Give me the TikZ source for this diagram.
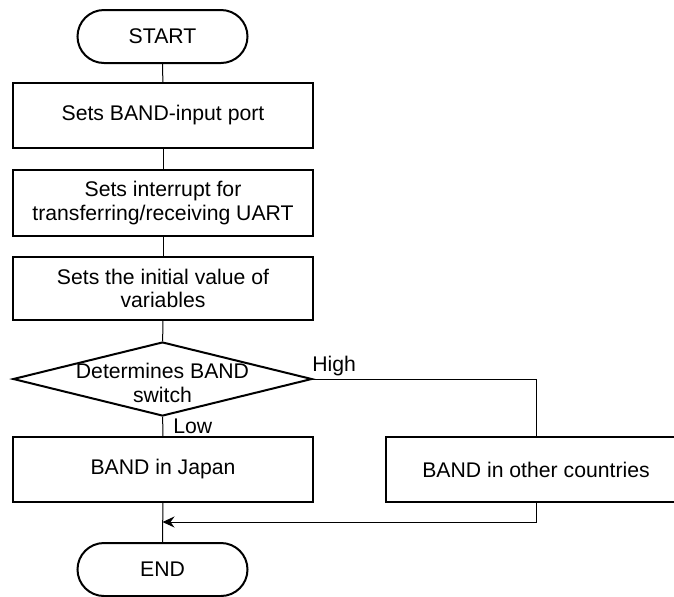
\documentclass[tikz,border=0pt]{standalone}
\usepackage{fontspec}
\setmainfont{Liberation Sans}
\usepackage{tikz}
\usetikzlibrary{shapes.geometric,arrows,arrows.meta,positioning,calc}

\begin{document}
\begin{tikzpicture}[x=0.5pt,y=-0.5pt,
		font=\fontsize{10.6}{11.8}\selectfont,
		procbox/.style={draw,line width=1pt,minimum width=150pt,minimum height=32.5pt,align=center,inner sep=0pt},
		terminal/.style={draw,line width=1pt,rounded corners=13.25pt,minimum width=85pt,minimum height=26.5pt,inner sep=0pt},
		decision/.style={draw,line width=1pt,diamond,minimum width=149.5pt,minimum height=37pt,inner sep=0pt},
		flow/.style={line width=0.5pt}]
	\useasboundingbox (0,0) rectangle (674,596);
	%\draw[style=help lines] (0,0) grid (674,596);
	\node[terminal] (start) at (162.5,36.5) {START};
	\node[procbox] (port) at (163,115.5) {Sets BAND-input port};
	\node[procbox,minimum height=33pt] (uart) at (163,203) {Sets interrupt for\\transferring/receiving UART};
	\node[procbox,minimum height=31.5pt] (init) at (163,288.5) {Sets the initial value of\\variables};
	\node[decision,label={[align=center,yshift=-2pt]center:Determines BAND\\switch}] (band) at (162.5,379) {};
	\node[procbox] (japan) at (163,469.5) {BAND in Japan};
	\node[procbox] (other) at (536,469.5) {BAND in other countries};
	\node[terminal] (end) at (162.5,569.5) {END};
	\coordinate (join) at (162.5,522);
	\node[anchor=west,inner sep=0pt] (high) at (312,366) {High};
	\node[anchor=west,inner sep=0pt] (low) at (173,426) {Low};
	% connectors
	\draw[flow] (start) -- (port);
	\draw[flow] (port) -- (uart);
	\draw[flow] (uart) -- (init);
	\draw[flow] (init) -- (band);
	\draw[flow] (band) -- (japan);
	\draw[flow] (band.east) -| (other.north);
	\draw[flow] (japan) -- (end);
	\draw[flow,-{Stealth[length=6pt,width=5.5pt,inset=2pt]}] (other.south) |- (join);
\end{tikzpicture}
\end{document}
